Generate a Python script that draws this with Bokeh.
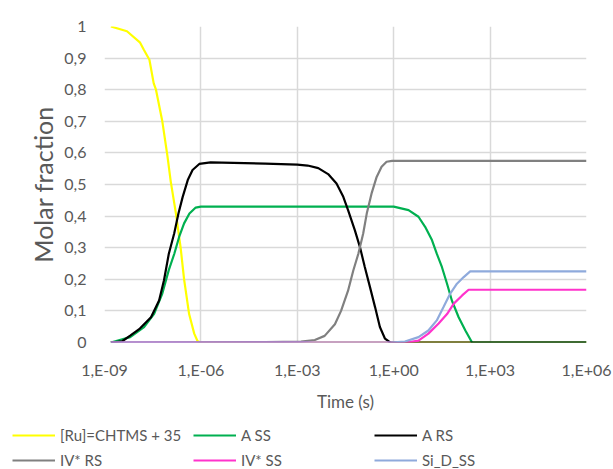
from bokeh.plotting import figure
from bokeh.models import Range1d, FixedTicker, Legend, LegendItem
from bokeh.embed import file_html
from bokeh.resources import INLINE

# ---- data (time in s, molar fraction) ----
t_ru = [1.58e-9, 5.0e-9, 1.26e-8, 1.66e-8, 2.5e-8, 3.4e-8, 4.0e-8, 6.3e-8, 9.1e-8, 1.15e-7,
        1.66e-7, 2.34e-7, 3.0e-7, 4.3e-7, 6.2e-7, 7.9e-7, 1.0e-6, 1.0e6]
y_ru = [1.0, 0.985, 0.95, 0.927, 0.895, 0.82, 0.80, 0.70, 0.59, 0.51,
        0.41, 0.30, 0.20, 0.09, 0.028, 0.004, 0.0, 0.0]

t_ass = [1.58e-9, 6.3e-9, 1.70e-8, 3.5e-8, 6.3e-8, 1.0e-7, 1.48e-7, 2.1e-7, 3.0e-7, 4.4e-7,
         6.9e-7, 1.0e-6, 1.0, 2.9, 5.9, 9.5, 15.5, 21.9, 31.6, 45.7, 64.6, 105, 170, 275, 1.0e6]
y_ass = [0.0, 0.017, 0.049, 0.091, 0.155, 0.229, 0.28, 0.334, 0.377, 0.408,
         0.427, 0.43, 0.43, 0.419, 0.398, 0.366, 0.324, 0.281, 0.239, 0.186, 0.133, 0.08, 0.038, 0.0, 0.0]

t_ars = [1.58e-9, 3.55e-9, 6.3e-9, 1.26e-8, 2.8e-8, 5.0e-8, 7.1e-8, 1.0e-7, 1.48e-7, 2.0e-7,
         2.7e-7, 3.9e-7, 5.5e-7, 8.9e-7, 2.0e-6, 1.0e-4, 1.0e-3, 2.1e-3, 4.5e-3, 9.1e-3,
         1.66e-2, 2.7e-2, 3.8e-2, 6.2e-2, 8.9e-2, 0.126, 0.182, 0.263, 0.372, 0.537, 0.776, 1.0e6]
y_ars = [0.0, 0.004, 0.022, 0.044, 0.08, 0.133, 0.197, 0.28, 0.346, 0.408,
         0.46, 0.514, 0.546, 0.565, 0.570, 0.566, 0.563, 0.56, 0.552, 0.533,
         0.503, 0.461, 0.419, 0.355, 0.302, 0.239, 0.176, 0.112, 0.049, 0.012, 0.0, 0.0]

t_ivrs = [1.58e-9, 1.0e-4, 1.3e-3, 3.5e-3, 7.1e-3, 1.48e-2, 2.3e-2, 3.8e-2, 5.5e-2, 7.9e-2,
          0.112, 0.145, 0.204, 0.295, 0.42, 0.60, 0.89, 1.0e6]
y_ivrs = [0.0, 0.001, 0.003, 0.008, 0.021, 0.058, 0.10, 0.164, 0.227, 0.28,
          0.344, 0.408, 0.471, 0.524, 0.556, 0.572, 0.575, 0.575]

t_ivss = [1.58e-9, 2.5, 5.9, 12, 25, 45.7, 74, 135, 214, 1.0e6]
y_ivss = [0.0, 0.0, 0.006, 0.028, 0.06, 0.09, 0.123, 0.149, 0.167, 0.167]

t_sid = [1.58e-9, 0.79, 2.24, 5.9, 12, 21.9, 35.5, 57.5, 93, 151, 240, 1.0e6]
y_sid = [0.0, 0.0, 0.003, 0.017, 0.038, 0.07, 0.112, 0.155, 0.186, 0.207, 0.225, 0.225]

series_names = ["[Ru]=CHTMS + 35", "A SS", "A RS", "IV* RS", "IV* SS", "Si_D_SS"]
series_colors = ["#ffff00", "#00b050", "#000000", "#808080", "#ff33cc", "#8faadc"]

x_ticks = [1e-9, 1e-6, 1e-3, 1e0, 1e3, 1e6]
x_tick_labels = ["1,E-09", "1,E-06", "1,E-03", "1,E+00", "1,E+03", "1,E+06"]
y_ticks = [0, 0.1, 0.2, 0.3, 0.4, 0.5, 0.6, 0.7, 0.8, 0.9, 1]
y_tick_labels = ["0", "0,1", "0,2", "0,3", "0,4", "0,5", "0,6", "0,7", "0,8", "0,9", "1"]

FONT = "Lato"
TXT = "#595959"
LW = 2.2

p = figure(width=613, height=420, x_axis_type="log",
           x_range=Range1d(1e-9, 1e6), y_range=Range1d(0, 1),
           output_backend="svg", toolbar_location=None,
           min_border_left=104, min_border_right=27, min_border_top=26, min_border_bottom=78)
p.outline_line_color = None
p.background_fill_color = "white"
p.border_fill_color = "white"

xt = FixedTicker(ticks=x_ticks, minor_ticks=[])
yt = FixedTicker(ticks=y_ticks, minor_ticks=[])
p.xaxis.ticker = xt
p.yaxis.ticker = yt
p.xgrid.ticker = xt
p.ygrid.ticker = yt
p.xaxis.major_label_overrides = dict(zip(x_ticks, x_tick_labels))
p.yaxis.major_label_overrides = dict(zip(y_ticks, y_tick_labels))

for g in (p.xgrid, p.ygrid):
    g.grid_line_color = "#d9d9d9"
    g.grid_line_width = 1.5

for ax in (p.xaxis, p.yaxis):
    ax.axis_line_color = None
    ax.major_tick_line_color = None
    ax.minor_tick_line_color = None
    ax.major_tick_out = 0
    ax.major_tick_in = 0
    ax.major_label_text_font = FONT
    ax.major_label_text_font_size = "16px"
    ax.major_label_text_color = TXT
    ax.axis_label_text_font = FONT
    ax.axis_label_text_font_style = "normal"
    ax.axis_label_text_color = TXT

p.xaxis.major_label_standoff = 17
p.yaxis.major_label_standoff = 18
p.xaxis.axis_label = "Time (s)"
p.xaxis.axis_label_text_font_size = "17px"
p.xaxis.axis_label_standoff = 9
p.yaxis.axis_label = "Molar fraction"
p.yaxis.axis_label_text_font_size = "25px"
p.yaxis.axis_label_standoff = 3

data = [(t_ru, y_ru), (t_ass, y_ass), (t_ars, y_ars), (t_ivrs, y_ivrs), (t_ivss, y_ivss), (t_sid, y_sid)]
for (tx, ty), col in zip(data, series_colors):
    p.line(tx, ty, line_color=col, line_width=LW)

# legend strip below the chart (its ranges keep the series out of view)
pl = figure(width=613, height=49, x_range=Range1d(-2, -1), y_range=Range1d(-2, -1),
            output_backend="svg", toolbar_location=None,
            x_axis_location=None, y_axis_location=None,
            min_border_left=0, min_border_right=0, min_border_top=0, min_border_bottom=0)
pl.outline_line_color = None
pl.background_fill_color = "white"
pl.border_fill_color = "white"
pl.xgrid.visible = False
pl.ygrid.visible = False
items = []
for (tx, ty), name, col in zip(data, series_names, series_colors):
    r = pl.line(tx, ty, line_color=col, line_width=LW)
    items.append(LegendItem(label=name, renderers=[r]))

legend = Legend(items=items, ncols=3, orientation="horizontal", location=(12, -1),
                glyph_width=43, glyph_height=20, label_width=128, label_height=20,
                label_standoff=5, spacing=5, padding=0, margin=0,
                border_line_color=None, background_fill_alpha=0,
                label_text_font=FONT, label_text_font_size="15px", label_text_color=TXT)
pl.add_layout(legend, "center")

open("out.html", "w").write(file_html([p, pl], INLINE))
